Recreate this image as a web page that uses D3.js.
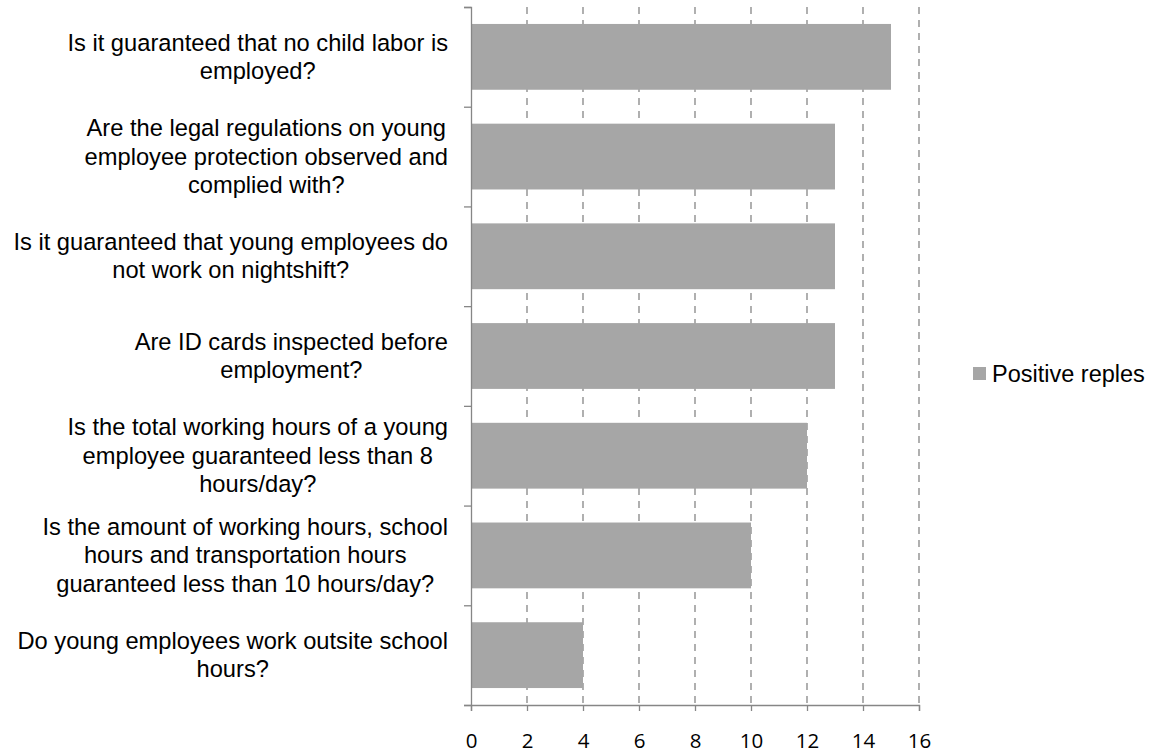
<!DOCTYPE html>
<html>
<head>
<meta charset="utf-8">
<script src="https://cdn.jsdelivr.net/npm/d3@7"></script>
<style>
  html, body { margin: 0; padding: 0; background: #fff; }
  svg { display: block; }
</style>
</head>
<body>
<svg id="chart" width="1157" height="753"></svg>
<script>
const categories = [
  ["Is it guaranteed that no child labor is", "employed?"],
  ["Are the legal regulations on young", "employee protection observed and", "complied with?"],
  ["Is it guaranteed that young employees do", "not work on nightshift?"],
  ["Are ID cards inspected before", "employment?"],
  ["Is the total working hours of a young", "employee guaranteed less than 8", "hours/day?"],
  ["Is the amount of working hours, school", "hours and transportation hours", "guaranteed less than 10 hours/day?"],
  ["Do young employees work outsite school", "hours?"]
];
const values = [15, 13, 13, 13, 12, 10, 4];
const xTicks = [0, 2, 4, 6, 8, 10, 12, 14, 16];
const seriesName = "Positive reples";

(function () {
const svg = d3.select("#chart");
const pLeft = 471, pRight = 919, pTop = 7, pBottom = 705;
const axisColor = "#868686";
const barColor = "#a6a6a6";

const x = d3.scaleLinear().domain([0, 16]).range([pLeft, pRight]);
const y = d3.scaleBand().domain(d3.range(categories.length)).range([pTop, pBottom])
  .paddingInner(0.34).paddingOuter(0.17);

// gridlines
svg.append("g").selectAll("line").data(xTicks.filter(d => d > 0)).join("line")
  .attr("x1", d => x(d)).attr("x2", d => x(d))
  .attr("y1", pTop).attr("y2", pBottom)
  .attr("stroke", axisColor).attr("stroke-width", 1.3)
  .attr("stroke-dasharray", "7,6");

// bars
svg.append("g").selectAll("rect").data(values).join("rect")
  .attr("x", x(0))
  .attr("y", (d, i) => y(i))
  .attr("width", d => x(d) - x(0))
  .attr("height", y.bandwidth())
  .attr("fill", barColor);

// x axis
const xAxis = d3.axisBottom(x).tickValues(xTicks).tickSize(6).tickPadding(12);
const gx = svg.append("g").attr("transform", `translate(0,${pBottom})`).call(xAxis);
gx.select(".domain").attr("stroke", axisColor).attr("stroke-width", 1.3);
gx.selectAll(".tick line").attr("stroke", axisColor).attr("stroke-width", 1.3);
gx.selectAll(".tick text")
  .attr("font-family", "'Open Sans', sans-serif")
  .attr("font-size", "20.5px")
  .attr("fill", "#000")
  .attr("dy", null)
  .attr("y", 34.5)
  .attr("dominant-baseline", "central");

// y axis: category boundary ticks
const boundaries = d3.range(categories.length + 1);
const yb = d3.scaleLinear().domain([0, categories.length]).range([pTop, pBottom]);
const yAxis = d3.axisLeft(yb).tickValues(boundaries).tickSize(7).tickFormat("");
const gy = svg.append("g").attr("transform", `translate(${pLeft},0)`).call(yAxis);
gy.select(".domain").attr("stroke", axisColor).attr("stroke-width", 1.3);
gy.selectAll(".tick line").attr("stroke", axisColor).attr("stroke-width", 1.3);

// category labels
const labelRight = 448;
const lineH = 28.3;
const lg = svg.append("g")
  .attr("font-family", "'Liberation Sans', Arial, sans-serif")
  .attr("font-size", "23.7px").attr("fill", "#000");
categories.forEach((lines, i) => {
  const cy = y(i) + y.bandwidth() / 2;
  const t = lg.append("text").attr("text-anchor", "middle");
  const n = lines.length;
  lines.forEach((ln, k) => {
    t.append("tspan").attr("x", 0)
      .attr("y", cy + (k - (n - 1) / 2) * lineH)
      .attr("dominant-baseline", "central")
      .text(ln);
  });
  let maxW = 0;
  t.selectAll("tspan").each(function () { maxW = Math.max(maxW, this.getComputedTextLength()); });
  const cx = labelRight - maxW / 2;
  t.selectAll("tspan").attr("x", cx);
});

// legend
const leg = svg.append("g");
leg.append("rect").attr("x", 973).attr("y", 367).attr("width", 13).attr("height", 13).attr("fill", barColor);
leg.append("text").attr("x", 992).attr("y", 374)
  .attr("dominant-baseline", "central")
  .attr("font-family", "'Liberation Sans', Arial, sans-serif")
  .attr("font-size", "23.5px").attr("fill", "#000")
  .text(seriesName);
})();
</script>
</body>
</html>
